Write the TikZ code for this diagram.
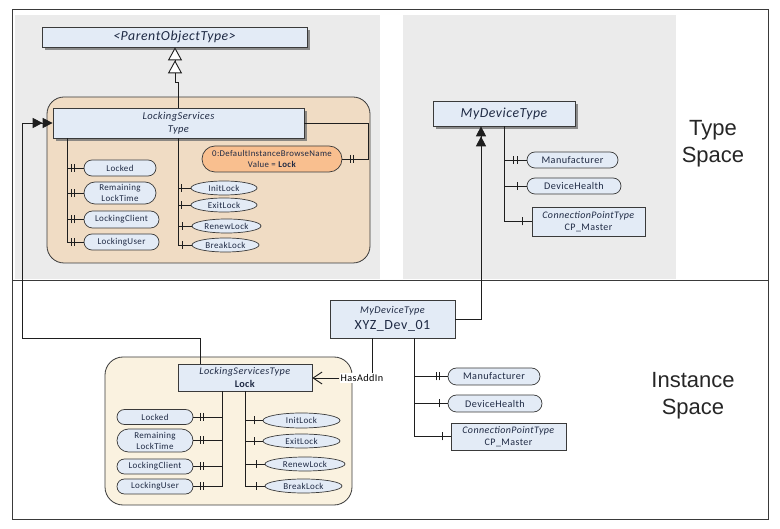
\documentclass[tikz,border=0pt]{standalone}
\usepackage{fontspec}
\setmainfont{Carlito}[LetterSpace=4]
\newfontfamily\lsans{Liberation Sans}
\usetikzlibrary{shapes.misc,shapes.geometric,arrows.meta,shadows,decorations.markings}
\definecolor{panelgrey}{HTML}{EBEBEB}
\definecolor{boxfill}{HTML}{E3EBF6}
\definecolor{peach}{HTML}{F0DCC4}
\definecolor{orangenode}{HTML}{F9BF8F}
\definecolor{cream}{HTML}{FAF2E0}
\definecolor{boxline}{HTML}{3A3A3A}
\definecolor{linec}{HTML}{1E1E1E}
\definecolor{textc}{HTML}{1F2A44}
\newcommand\fpill{\fontsize{9}{11}\selectfont}
\newcommand\fpillL{\fontsize{10.2}{11}\selectfont}
\tikzset{
  conn/.style={draw=linec, line width=0.9pt},
  tbox/.style={rectangle, draw=boxline, fill=boxfill, line width=0.7pt, inner sep=0pt, align=center, text=textc},
  shad/.style={drop shadow={shadow xshift=3pt, shadow yshift=-3pt, fill=black!55, opacity=0.8}},
  pill/.style={rounded rectangle, draw=boxline, fill=boxfill, line width=0.7pt, inner sep=0pt, align=center, text=textc, font=\fpill},
  pillL/.style={pill, font=\fpillL},
  meth/.style={ellipse, draw=boxline, fill=boxfill, line width=0.7pt, inner sep=0pt, align=center, text=textc, font=\fpill},
  dbar/.style 2 args={postaction={decorate, decoration={markings,
      mark=at position -#1 with {\draw[line width=0.8pt, linec] (0pt,-4pt) -- (0pt,4pt);},
      mark=at position -#2 with {\draw[line width=0.8pt, linec] (0pt,-4pt) -- (0pt,4pt);}}}},
  sbar/.style={postaction={decorate, decoration={markings,
      mark=at position -#1 with {\draw[line width=0.8pt, linec] (0pt,-4pt) -- (0pt,4pt);}}}},
  dblarrow/.style={-{Triangle[length=10pt,width=10pt]Triangle[length=10pt,width=10pt]}},
  genarrow/.style={-{Triangle[fill=white,length=13pt,width=14pt]Triangle[fill=white,length=13pt,width=14pt]}},
  spacelabel/.style={font=\lsans\fontsize{22}{27}\selectfont, align=center, text=black!85}
}
\begin{document}
\begin{tikzpicture}[x=1pt,y=-1pt]
\useasboundingbox (0,0) rectangle (780,529);
% panels and frame
\fill[panelgrey] (15,15) rectangle (380,279);
\fill[panelgrey] (403,15) rectangle (676,279);
\draw[boxline, line width=0.8pt] (12,9) rectangle (768,519);
\draw[boxline, line width=0.8pt] (12,280) -- (768,280);
% containers
\draw[boxline, fill=peach, line width=0.8pt, rounded corners=17pt] (47,97) rectangle (370,263);
\draw[boxline, fill=cream, line width=0.8pt, rounded corners=18pt] (105,357) rectangle (352,505);

% ===== Type space, left =====
\node[tbox, shad, minimum width=265pt, minimum height=20pt, font=\fontsize{13.8}{15}\selectfont\itshape] (parent) at (174.5,37) {<ParentObjectType>};
\node[tbox, shad, minimum width=251pt, minimum height=30pt, font=\fontsize{10.5}{12.5}\selectfont\itshape] (lst) at (178.5,123) {LockingServices\\Type};
\node[pill, minimum width=72pt, minimum height=16pt] (tlocked) at (120,168) {Locked};
\node[pill, minimum width=72pt, minimum height=22pt] (tremain) at (120,193) {Remaining\\LockTime};
\node[pill, minimum width=75pt, minimum height=17pt] (tclient) at (121.5,219.5) {LockingClient};
\node[pill, minimum width=75pt, minimum height=16pt] (tuser) at (121.5,242) {LockingUser};
\node[meth, minimum width=66pt, minimum height=14pt] (tinit) at (224,188) {InitLock};
\node[meth, minimum width=66pt, minimum height=14pt] (texit) at (224,205) {ExitLock};
\node[meth, minimum width=69pt, minimum height=14pt] (trenew) at (226.5,226) {RenewLock};
\node[meth, minimum width=67pt, minimum height=14pt] (tbreak) at (225.5,245) {BreakLock};
\node[pill, fill=orangenode, minimum width=140pt, minimum height=26pt, font=\fontsize{8.8}{11}\selectfont] (dibn) at (272,159) {0:DefaultInstanceBrowseName\\Value = \textbf{Lock}};

\coordinate (tl) at (67,0);
\coordinate (g1) at (178.5,82);
\coordinate (g2) at (175,82);
\coordinate (cR) at (368,123);
\draw[conn, genarrow] (lst.north) -- (g1) -- (g2) -- (parent.south -| g2);
\draw[conn, dbar={9pt}{12pt}] (lst.south -| tl) |- (tlocked.west);
\draw[conn, dbar={9pt}{12pt}] (lst.south -| tl) |- (tremain.west);
\draw[conn, dbar={9pt}{12pt}] (lst.south -| tl) |- (tclient.west);
\draw[conn, dbar={9pt}{12pt}] (lst.south -| tl) |- (tuser.west);
\draw[conn, sbar=9pt] (lst.south) |- (tinit.west);
\draw[conn, sbar=9pt] (lst.south) |- (texit.west);
\draw[conn, sbar=9pt] (lst.south) |- (trenew.west);
\draw[conn, sbar=9pt] (lst.south) |- (tbreak.west);
\draw[conn, dbar={8pt}{11pt}] (lst.east) -- (cR) |- (dibn.east);

% ===== Type space, right =====
\node[tbox, shad, minimum width=142pt, minimum height=25pt, font=\fontsize{13.8}{15}\selectfont\itshape] (mdt) at (504,113.5) {MyDeviceType};
\node[pillL, minimum width=91pt, minimum height=16pt] (tmanu) at (572.5,160) {Manufacturer};
\node[pillL, minimum width=94pt, minimum height=16pt] (thealth) at (574,186) {DeviceHealth};
\node[tbox, minimum width=113pt, minimum height=29pt, font=\fontsize{10}{12}\selectfont] (tcp) at (588.5,221.5) {\textit{ConnectionPointType}\\CP\_Master};
\draw[conn, dbar={9pt}{13pt}] (mdt.south) |- (tmanu.west);
\draw[conn, sbar=9pt] (mdt.south) |- (thealth.west);
\draw[conn, sbar=9pt] (mdt.south) |- (tcp.west);
\node[spacelabel] (tslabel) at (713,144) {Type\\Space};

% ===== Instance space =====
\node[tbox, minimum width=125pt, minimum height=38pt, font=\fontsize{14}{15.5}\selectfont] (xyz) at (392.5,319) {{\fontsize{10.3}{12}\selectfont\itshape MyDeviceType}\\XYZ\_Dev\_01};
\coordinate (ax) at (481,0);
\draw[conn, dblarrow] (xyz.east) -| (mdt.south -| ax);
\node[pillL, minimum width=92pt, minimum height=17pt] (imanu) at (494,376.5) {Manufacturer};
\node[pillL, minimum width=94pt, minimum height=17pt] (ihealth) at (495,403.5) {DeviceHealth};
\node[tbox, minimum width=115pt, minimum height=27pt, font=\fontsize{10}{12}\selectfont] (icp) at (508.5,436.5) {\textit{ConnectionPointType}\\CP\_Master};
\coordinate (xt) at (414,0);
\draw[conn, dbar={8pt}{11pt}] (xyz.south -| xt) |- (imanu.west);
\draw[conn, sbar=8pt] (xyz.south -| xt) |- (ihealth.west);
\draw[conn, sbar=8pt] (xyz.south -| xt) |- (icp.west);
\node[spacelabel] (islabel) at (693,396) {Instance\\Space};

\node[tbox, minimum width=134pt, minimum height=27pt, font=\fontsize{10.2}{12.5}\selectfont] (lock) at (245,377.5) {\textit{LockingServicesType}\\\textbf{Lock}};
\node[pill, minimum width=76pt, minimum height=15pt] (ilocked) at (155,417) {Locked};
\node[pill, minimum width=76pt, minimum height=23pt] (iremain) at (155,440.5) {Remaining\\LockTime};
\node[pill, minimum width=76pt, minimum height=15pt] (iclient) at (155,466.5) {LockingClient};
\node[pill, minimum width=76pt, minimum height=15pt] (iuser) at (155,486.5) {LockingUser};
\node[meth, minimum width=77pt, minimum height=15pt] (iinit) at (301.5,420.5) {InitLock};
\node[meth, minimum width=77pt, minimum height=14pt] (iexit) at (301.5,441) {ExitLock};
\node[meth, minimum width=80pt, minimum height=14pt] (irenew) at (305,464) {RenewLock};
\node[meth, minimum width=77pt, minimum height=14pt] (ibreak) at (303.5,486) {BreakLock};
\coordinate (il) at (222,0);
\draw[conn, dbar={7pt}{10pt}] (lock.south -| il) |- (ilocked.east);
\draw[conn, dbar={7pt}{10pt}] (lock.south -| il) |- (iremain.east);
\draw[conn, dbar={7pt}{10pt}] (lock.south -| il) |- (iclient.east);
\draw[conn, dbar={7pt}{10pt}] (lock.south -| il) |- (iuser.east);
\draw[conn, sbar=8pt] (lock.south) |- (iinit.west);
\draw[conn, sbar=8pt] (lock.south) |- (iexit.west);
\draw[conn, sbar=8pt] (lock.south) |- (irenew.west);
\draw[conn, sbar=8pt] (lock.south) |- (ibreak.west);

% HasAddIn
\node[fill=white, inner sep=1pt, font=\fontsize{10.2}{12}\selectfont, text=black] (hasaddin) at (362,378) {HasAddIn};
\coordinate (hx) at (372,0);
\draw[conn] (xyz.south -| hx) -- (hx |- hasaddin.north);
\draw[conn, -{Straight Barb[length=9pt,width=12pt]}] (hasaddin.west) -- (lock.east |- hasaddin.west);

% HasTypeDefinition back to LockingServicesType
\coordinate (lp) at (200,0);
\coordinate (bend) at (22,338);
\draw[conn, dblarrow] (lock.north -| lp) |- (bend) |- (lst.west);
\end{tikzpicture}
\end{document}
